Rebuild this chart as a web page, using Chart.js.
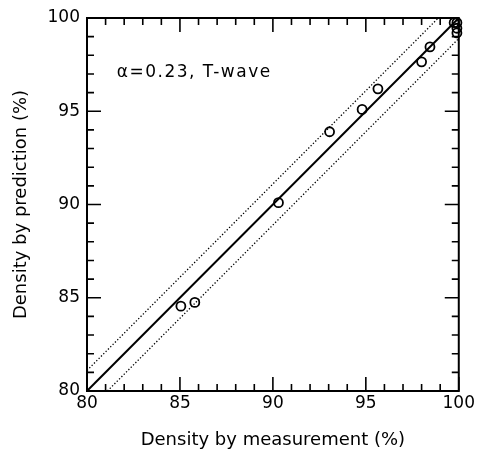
<!DOCTYPE html>
<html>
<head>
<meta charset="utf-8">
<script src="https://cdn.jsdelivr.net/npm/chart.js@4.4.1/dist/chart.umd.min.js"></script>
<style>
  html, body { margin: 0; padding: 0; background: #fff; }
  #wrap { width: 477px; height: 454px; }
</style>
</head>
<body>
<div id="wrap"><canvas id="densityChart" width="477" height="454"></canvas></div>
<script>
// measured vs predicted density (%)
const measured  = [85.05, 85.8, 90.3, 93.05, 94.8, 95.65, 98.0, 98.45, 99.75, 99.9, 99.9, 99.9];
const predicted = [84.55, 84.75, 90.1, 93.9, 95.1, 96.2, 97.65, 98.45, 99.75, 99.75, 99.45, 99.2];

// 1:1 line and +-band
const fitX   = [80, 100];
const fitY   = [80, 100];
const upperX = [80, 98.9];
const upperY = [81.1, 100];
const lowerX = [81.1, 100];
const lowerY = [80, 98.9];

const axisMin = 80;
const axisMax = 100;
const majorTicks = [80, 85, 90, 95, 100];

const noteText = '\u03b1=0.23, T-wave';
const noteX = 81.6;
const noteY = 97.05;

function pairs(xs, ys) {
    return xs.map((x, i) => ({ x: x, y: ys[i] }));
}

const fontFamily = "'DejaVu Sans', sans-serif";

// frame, inward ticks and the note
const framePlugin = {
    id: 'frame',
    afterDraw(chart) {
        const c = chart.ctx;
        const a = chart.chartArea;
        const xs = chart.scales.x;
        const ys = chart.scales.y;
        c.save();
        c.strokeStyle = '#000';
        c.lineWidth = 2;
        c.strokeRect(a.left, a.top, a.right - a.left, a.bottom - a.top);
        c.lineWidth = 1.6;
        for (let v = axisMin; v <= axisMax; v++) {
            const len = (v % 5 === 0) ? 14 : 7;
            const px = xs.getPixelForValue(v);
            const py = ys.getPixelForValue(v);
            c.beginPath();
            c.moveTo(px, a.bottom); c.lineTo(px, a.bottom - len);
            c.moveTo(px, a.top); c.lineTo(px, a.top + len);
            c.moveTo(a.left, py); c.lineTo(a.left + len, py);
            c.moveTo(a.right, py); c.lineTo(a.right - len, py);
            c.stroke();
        }
        c.fillStyle = '#000';
        c.font = '17px ' + fontFamily;
        c.letterSpacing = '1.5px';
        c.textBaseline = 'middle';
        c.textAlign = 'left';
        c.fillText(noteText, xs.getPixelForValue(noteX), ys.getPixelForValue(noteY));
        c.restore();
    }
};

const ctx = document.getElementById('densityChart');
const densityChart = new Chart(ctx, {
    type: 'scatter',
    data: {
        datasets: [{
            label: 'data',
            data: pairs(measured, predicted),
            pointStyle: 'circle',
            pointRadius: 4.5,
            pointBorderWidth: 1.8,
            pointBorderColor: '#000',
            pointBackgroundColor: 'rgba(255,255,255,0)',
            showLine: false,
            clip: false
        }, {
            label: 'fit',
            data: pairs(fitX, fitY),
            showLine: true,
            borderColor: '#000',
            borderWidth: 2,
            pointRadius: 0
        }, {
            label: 'upper',
            data: pairs(upperX, upperY),
            showLine: true,
            borderColor: '#000',
            borderWidth: 1.3,
            borderDash: [1.3, 2],
            pointRadius: 0
        }, {
            label: 'lower',
            data: pairs(lowerX, lowerY),
            showLine: true,
            borderColor: '#000',
            borderWidth: 1.3,
            borderDash: [1.3, 2],
            pointRadius: 0
        }]
    },
    options: {
        responsive: false,
        animation: false,
        layout: { padding: { top: 18, right: 18, left: 0, bottom: 0 } },
        plugins: {
            legend: { display: false },
            tooltip: { enabled: false }
        },
        scales: {
            x: {
                type: 'linear',
                min: axisMin,
                max: axisMax,
                afterFit: (scale) => { scale.height = 63; },
                afterBuildTicks: (scale) => { scale.ticks = majorTicks.map(v => ({ value: v })); },
                grid: { display: false, drawTicks: false },
                border: { display: false },
                ticks: {
                    color: '#000',
                    padding: 2,
                    maxRotation: 0,
                    font: { family: fontFamily, size: 17 }
                },
                title: {
                    display: true,
                    text: 'Density by measurement (%)',
                    color: '#000',
                    padding: { top: 0, bottom: 3 },
                    font: { family: fontFamily, size: 18 }
                }
            },
            y: {
                type: 'linear',
                min: axisMin,
                max: axisMax,
                afterFit: (scale) => { scale.width = 87; },
                afterBuildTicks: (scale) => { scale.ticks = majorTicks.map(v => ({ value: v })); },
                grid: { display: false, drawTicks: false },
                border: { display: false },
                ticks: {
                    color: '#000',
                    padding: 7,
                    font: { family: fontFamily, size: 17 }
                },
                title: {
                    display: true,
                    text: 'Density by prediction (%)',
                    color: '#000',
                    padding: { top: 11, bottom: 0 },
                    font: { family: fontFamily, size: 18 }
                }
            }
        }
    },
    plugins: [framePlugin]
});
</script>
</body>
</html>
